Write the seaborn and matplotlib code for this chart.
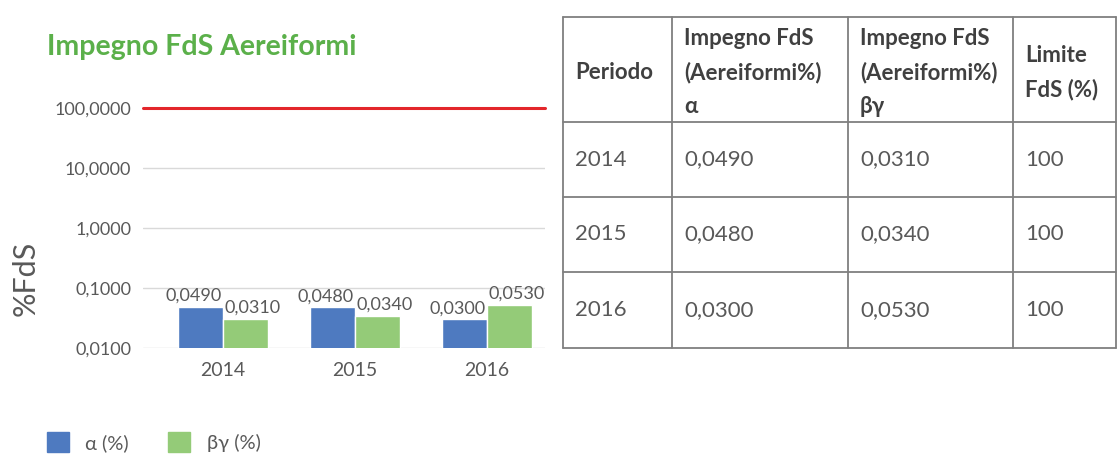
import numpy as np
import pandas as pd
import matplotlib
matplotlib.use('Agg')
import matplotlib.pyplot as plt
from matplotlib.ticker import FixedLocator, FuncFormatter, NullLocator
from matplotlib.patches import Patch
import seaborn as sns

# Dati
anni = ["2014", "2015", "2016"]
alfa = [0.0490, 0.0480, 0.0300]
betagamma = [0.0310, 0.0340, 0.0530]
limite = [100, 100, 100]
serie = ["α (%)", "βγ (%)"]
yticks = [0.01, 0.1, 1, 10, 100]
intestazioni = ["Periodo", "Impegno FdS\n(Aereiformi%)\nα", "Impegno FdS\n(Aereiformi%)\nβγ", "Limite\nFdS (%)"]

colori = ["#4E7AC0", "#94CB78"]
grigio = "#595959"


def virgola(v, dec=4):
    return f"{v:.{dec}f}".replace(".", ",")


df = pd.DataFrame({
    "periodo": anni * 2,
    "serie": [serie[0]] * len(anni) + [serie[1]] * len(anni),
    "valore": alfa + betagamma,
})

sns.set_theme(style="white")
plt.rcParams['font.family'] = ['Lato', 'DejaVu Sans']

fig = plt.figure(figsize=(11.17, 4.55), dpi=100)
ax = fig.add_axes([143 / 1117, 107 / 455, 402 / 1117, 240 / 455])

sns.barplot(data=df, x="periodo", y="valore", hue="serie", palette=colori,
            width=0.68, saturation=1, ax=ax, legend=False)
ax.set_xlim(-0.606, 2.44)
ax.set_yscale("log")
ax.set_ylim(0.01, 100)
ax.yaxis.set_major_locator(FixedLocator(yticks))
ax.yaxis.set_minor_locator(NullLocator())
ax.yaxis.set_major_formatter(FuncFormatter(lambda v, p: virgola(v)))
ax.grid(axis="y", color="#D9D9D9", linewidth=1)
ax.set_axisbelow(True)
for s in ax.spines.values():
    s.set_visible(False)
ax.tick_params(axis="y", length=0, pad=8.5, labelsize=13, labelcolor=grigio)
ax.tick_params(axis="x", length=0, pad=10, labelsize=14, labelcolor=grigio)
ax.set_xlabel("")
ax.set_ylabel("")

ax.axhline(limite[0], color="#E3262B", linewidth=2.2, clip_on=False, zorder=5)

# etichette dei valori, leggermente spostate verso l'esterno come nell'originale
for k, cont in enumerate(ax.containers):
    dx = -7 if k == 0 else 7
    for b in cont:
        ax.annotate(virgola(b.get_height()), (b.get_x() + b.get_width() / 2, b.get_height()),
                    xytext=(dx, 6), textcoords="offset pixels", ha="center", va="baseline",
                    fontsize=13, color=grigio)

fig.text(47 / 1117, 1 - 47 / 455, "Impegno FdS Aereiformi", color="#5BB04A",
         fontsize=20.5, fontweight="bold", ha="left", va="center")
fig.text(26 / 1117, 1 - 278 / 455, "%FdS", rotation=90, color=grigio,
         fontsize=22, ha="center", va="center")

handles = [Patch(color=c) for c in colori]
fig.legend(handles, serie, loc="center left", bbox_to_anchor=(33 / 1117, 13 / 455),
           ncol=2, frameon=False, fontsize=14.5, handlelength=1.1, handleheight=1.2,
           columnspacing=1.95, handletextpad=0.8, labelcolor=grigio, borderpad=0.2)

# Tabella
tab = fig.add_axes([0, 0, 1, 1])
tab.set_xlim(0, 1117)
tab.set_ylim(455, 0)
tab.axis("off")

xs = [563, 672, 848, 1013, 1116]
ys = [17, 122, 197, 272, 348]
for x in xs:
    tab.plot([x, x], [ys[0], ys[-1]], color="#7F7F7F", linewidth=1.3)
for y in ys:
    tab.plot([xs[0], xs[-1]], [y, y], color="#7F7F7F", linewidth=1.3)

for j, h in enumerate(intestazioni):
    tab.text(xs[j] + 12, (ys[0] + ys[1]) / 2 + 3, h, ha="left", va="center",
             fontsize=16, fontweight="bold", color="#404040", linespacing=1.71)

righe = [[anni[i], virgola(alfa[i]), virgola(betagamma[i]), str(limite[i])] for i in range(len(anni))]
for i, riga in enumerate(righe):
    for j, val in enumerate(riga):
        tab.text(xs[j] + 12, (ys[i + 1] + ys[i + 2]) / 2, val, ha="left", va="center",
                 fontsize=16, color=grigio)

fig.savefig("out.png", dpi=100)
